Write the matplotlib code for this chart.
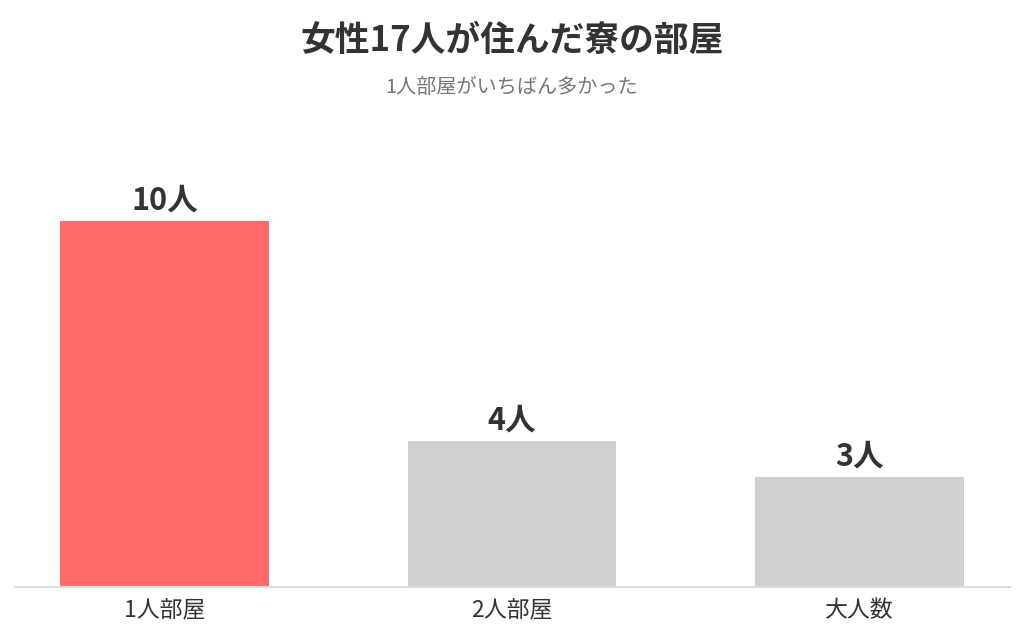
import matplotlib
matplotlib.use("Agg")
import matplotlib.pyplot as plt

categories = ["1人部屋", "2人部屋", "大人数"]
values = [10, 4, 3]
value_labels = ["10人", "4人", "3人"]
colors = ["#FF6B6B", "#D0D0D0", "#D0D0D0"]
title = "女性17人が住んだ寮の部屋"
subtitle = "1人部屋がいちばん多かった"

plt.rcParams['font.family'] = ['Noto Sans CJK JP', 'DejaVu Sans']

fig = plt.figure(figsize=(10.24, 6.4), dpi=100)
ax = fig.add_axes([15/1024, 53/640, 995/1024, (587-147.8)/640])
x = list(range(len(categories)))
ax.bar(x, values, width=0.6, color=colors)
ax.set_xlim(-0.43, 2.433)
ax.set_ylim(0, 12)
for xi, v, lab in zip(x, values, value_labels):
    ax.text(xi, v + 0.12, lab, ha='center', va='bottom', fontsize=22,
            fontweight='bold', color='#333333')
ax.set_xticks(x)
ax.set_xticklabels(categories, fontsize=16.5, color='#333333')
ax.tick_params(axis='x', length=0, pad=9)
ax.set_yticks([])
for s in ['top', 'right', 'left']:
    ax.spines[s].set_visible(False)
ax.spines['bottom'].set_color('#DDDDDD')
ax.spines['bottom'].set_linewidth(1.5)

fig.text(0.5, 1 - 40/640, title, ha='center', va='center', fontsize=25,
         fontweight='bold', color='#333333')
fig.text(0.5, 1 - 87/640, subtitle, ha='center', va='center', fontsize=14.5,
         color='#777777')

fig.savefig("out.png", dpi=100)
